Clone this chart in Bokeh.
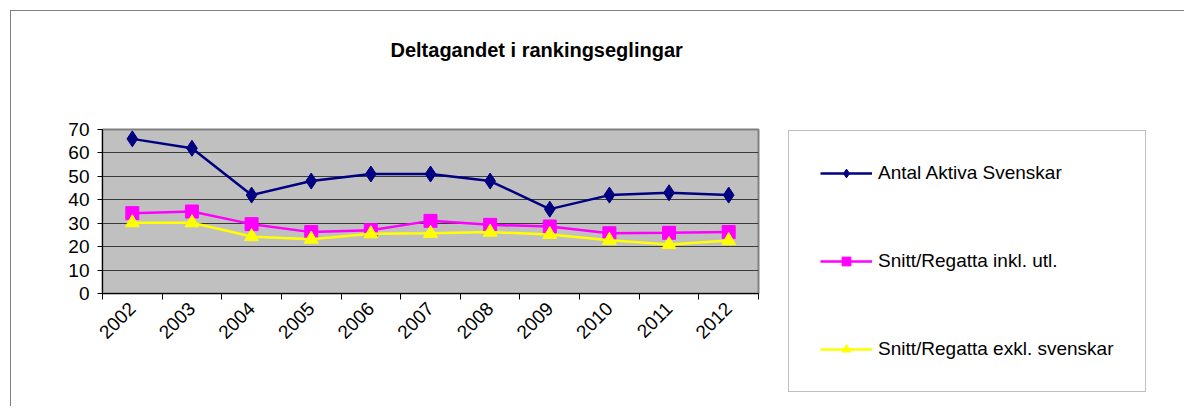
from math import pi
from bokeh.plotting import figure
from bokeh.models import Legend, LegendItem, FixedTicker, Range1d, Title
from bokeh.embed import file_html
from bokeh.resources import INLINE

years = ["2002", "2003", "2004", "2005", "2006", "2007", "2008", "2009", "2010", "2011", "2012"]
antal_aktiva = [66, 62, 42, 48, 51, 51, 48, 36, 42, 43, 42]
snitt_inkl = [34.3, 35, 29.6, 26.2, 27, 31, 29.3, 28.6, 25.7, 25.9, 26.2]
snitt_exkl = [30.2, 30.2, 24.3, 23.2, 25.5, 25.7, 26.2, 25.2, 22.7, 20.9, 22.6]
y_ticks = [0, 10, 20, 30, 40, 50, 60, 70]

FONT = "Liberation Sans"
xs = [i + 0.5 for i in range(len(years))]

p = figure(frame_width=656, frame_height=164,
           min_border_left=91, min_border_top=118, min_border_right=425, min_border_bottom=113,
           output_backend="svg", toolbar_location=None,
           x_range=Range1d(0, len(years)), y_range=Range1d(0, 70))
p.margin = (10, 0, 0, 10)
p.styles = {"border-top": "1px solid #808080", "border-left": "1px solid #808080"}

p.background_fill_color = "#C0C0C0"
p.border_fill_color = "white"
p.outline_line_color = "#808080"
p.outline_line_width = 2

# spacer between plot area and title (keeps the title high up in the chart box)
spacer = Title(text=" ", standoff=18, text_font=FONT, text_font_size="20px",
               text_font_style="bold")
p.add_layout(spacer, "above")
t = Title(text="Deltagandet i rankingseglingar", align="left", offset=288, standoff=50,
          vertical_align="top",
          text_font=FONT, text_font_size="20px", text_font_style="bold", text_color="black")
p.add_layout(t, "above")

# x axis
p.xaxis.ticker = FixedTicker(ticks=xs, minor_ticks=list(range(len(years) + 1)))
p.xaxis.major_label_overrides = {x: y for x, y in zip(xs, years)}
p.xaxis.major_label_orientation = pi / 4
p.xaxis.major_tick_out = 0
p.xaxis.major_tick_in = 0
p.xaxis.minor_tick_out = 6
p.xaxis.minor_tick_in = 0
p.xaxis.minor_tick_line_color = "black"
p.xaxis.axis_line_color = "black"
p.xaxis.major_label_text_font = FONT
p.xaxis.major_label_text_font_size = "19px"
p.xaxis.major_label_text_color = "black"
p.xaxis.major_label_standoff = 6
p.xgrid.visible = False

# y axis
p.yaxis.ticker = FixedTicker(ticks=y_ticks, minor_ticks=[])
p.yaxis.major_tick_out = 5
p.yaxis.major_tick_in = 0
p.yaxis.major_tick_line_color = "black"
p.yaxis.axis_line_color = "black"
p.yaxis.major_label_text_font = FONT
p.yaxis.major_label_text_font_size = "19px"
p.yaxis.major_label_text_color = "black"
p.yaxis.major_label_standoff = 8
p.ygrid.grid_line_color = "#3a3a3a"
p.ygrid.grid_line_width = 1

series = [
    ("Antal Aktiva Svenskar", antal_aktiva, "#000080", "diamond", 16),
    ("Snitt/Regatta inkl. utl.", snitt_inkl, "#FF00FF", "square", 13),
    ("Snitt/Regatta exkl. svenskar", snitt_exkl, "#FFFF00", "triangle", 14),
]
items = []
for name, vals, col, mk, sz in series:
    l = p.line(xs, vals, line_color=col, line_width=2.5)
    s = p.scatter(xs, vals, marker=mk, size=sz, fill_color=col, line_color=col)
    items.append(LegendItem(label=name, renderers=[l, s]))

legend = Legend(items=items, location=(30, -99), orientation="vertical",
                margin=0, padding=31, spacing=66, label_height=22, glyph_height=22,
                glyph_width=52, label_standoff=6,
                label_text_font=FONT, label_text_font_size="19px", label_text_color="black",
                border_line_color="#808080", border_line_width=1,
                background_fill_color="white", background_fill_alpha=1)
p.add_layout(legend, "right")

open("out.html", "w").write(file_html(p, INLINE))
